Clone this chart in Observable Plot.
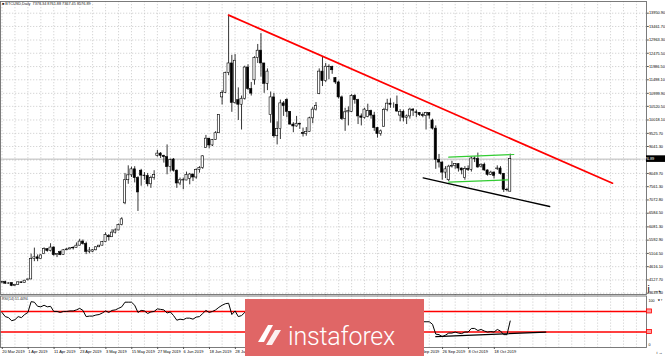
<!DOCTYPE html>
<html><head><meta charset="utf-8">
<script src="https://cdn.jsdelivr.net/npm/d3@7"></script>
<script src="https://cdn.jsdelivr.net/npm/@observablehq/plot@0.6"></script>
<style>
body{margin:0;background:#fff;}
#wrap{position:relative;width:665px;height:356px;overflow:hidden;font-family:"Liberation Sans",Arial,sans-serif;background:#fff;}
#main{position:absolute;left:0;top:0;}
#rsi{position:absolute;left:0;top:295px;}
#logo{position:absolute;left:245px;top:299px;width:179px;height:57px;background:#e06666;}
#logo span{position:absolute;left:43px;top:25px;font-family:Roboto,"Open Sans",sans-serif;font-weight:300;font-size:25px;line-height:25px;color:#fff;letter-spacing:-0.2px;white-space:nowrap;}
#logo svg{position:absolute;left:10px;top:21px;}
</style></head>
<body><div id="wrap"><div id="main"></div><div id="rsi"></div>
<div id="logo"><svg width="28" height="28" viewBox="0 0 28 28"><path d="M3 22 L13 5 L18 5 L9 22 Z" fill="#fff"/><path d="M11 25 L20 10 L26 10 L17 25 Z" fill="#fff" opacity="0.9"/></svg><span>instaforex</span></div>
</div>
<script>
// ---- data (weekday bars, 20 Mar 2019 .. 25 Oct 2019) ----
const open = [4030,4050,3990,4010,3910,3935,4040,4015,
4120,4145,4900,4960,4900,5080,5260,5190,5320,5040,
5150,5040,5220,5250,5290,5300,5390,5540,5450,5160,
5170,5220,5330,5390,5520,5740,5700,5870,5950,6150,
6950,7800,7980,8200,7880,8150,7970,7950,7650,7880,
8700,8780,8700,8650,8280,8560,8150,7680,7800,7790,
7850,8010,7900,8180,8250,8990,9330,9080,9280,9530,
10850,11020,11750,12100,10650,10750,10580,10800,11950,11160,
11480,12300,12570,12100,11350,10200,10850,9420,9680,10630,
10750,10320,9850,9780,9880,9540,9500,9580,10080,10400,
10980,11800,11450,11980,11970,11560,11400,10850,10050,10300,
10320,10900,10750,10150,10100,10130,10350,10180,9720,9500,
9770,10380,10620,10580,10580,10180,10320,10100,10150,10400,
10300,10280,10200,10170,10270,10000,9700,8550,8450,8080,
7800,8300,8320,8390,8230,7880,8210,8180,8600,8580,
8300,8370,8160,8000,8080,8220,8230,8030,7450,7378.34];
const high = [4075,4085,4020,4020,3950,4050,4045,4110,
4160,5080,5300,5050,5060,5310,5270,5460,5350,5100,
5190,5240,5290,5320,5350,5490,5620,5600,5520,5320,
5250,5350,5400,5540,5860,5800,5980,6010,6180,6420,
8050,8330,8280,8300,7930,8200,8080,8050,7950,8150,
8900,8820,8720,9100,8580,8600,8180,7880,7880,8100,
8050,8020,8220,8300,8700,9450,9340,9300,9590,10200,
11100,11780,13880,12400,12430,11200,10900,12000,12050,11400,
12350,12800,13200,12100,11900,11050,11000,9950,10750,10700,
10800,10330,9920,10150,9900,9720,9740,10120,10480,10660,
11900,12320,12100,12050,12000,11580,11450,10900,10450,10500,
10950,10950,10780,10240,10450,10600,10380,10300,9750,9650,
10450,10780,10800,10650,10900,10400,10380,10200,10450,10440,
10380,10290,10280,10300,10280,10050,9800,8750,8480,8300,
8350,8500,8400,8400,8250,8300,8330,8650,8660,8800,
8400,8430,8180,8130,8110,8330,8300,8050,7500,8761.88];
const low = [3990,3960,3970,3880,3900,3930,4000,4010,
4090,4140,4800,4800,4890,5060,5150,5160,5000,4950,
5020,5030,5210,5240,5230,5300,5380,5410,5060,5090,
5130,5200,5320,5380,5500,5560,5690,5820,5940,6120,
6900,7650,7900,7700,6650,7580,7800,7560,7500,7800,
8650,8600,8430,8000,8100,8100,7500,7600,7450,7780,
7630,7750,7840,8060,8200,8980,8960,9040,9270,9520,
10570,11000,11650,10300,10600,10000,9650,10750,11100,10900,
11300,12100,11600,11000,11100,9900,9350,9100,9300,10150,
10100,9820,9550,9750,9670,9390,9420,9570,9880,10350,
10950,11250,11400,11500,11700,11330,10790,10000,9600,9800,
10300,10600,9850,9800,10050,10100,10050,9600,9350,9420,
9750,10320,10450,10450,10300,9950,9950,9850,10050,10150,
10100,10150,10100,9650,10050,9650,8200,8250,7800,7860,
7750,8250,8200,8100,8000,7800,8120,8100,8450,8240,
8250,8130,7950,7970,7850,8160,7990,7350,7370,7367.45];
const close = [4050,3990,4000,3910,3935,4040,4015,4100,
4145,4900,4960,4900,5030,5260,5190,5320,5040,5080,
5040,5220,5250,5290,5300,5390,5540,5450,5160,5210,
5220,5330,5390,5520,5780,5700,5870,5950,6150,6360,
7800,7980,8200,7880,7350,7970,7950,7650,7880,7990,
8780,8700,8650,8280,8550,8150,7680,7800,7790,8000,
8010,7900,8180,8250,8680,9330,9080,9280,9530,10200,
11020,11750,12100,10650,12200,10580,10800,11950,11160,10990,
12300,12570,12100,11350,11800,10850,9420,9680,10630,10530,
10320,9850,9780,9880,9850,9500,9580,10080,10400,10530,
11800,11450,11980,11970,11850,11400,10850,10050,10300,10350,
10900,10750,10150,10100,10400,10350,10180,9720,9500,9600,
10380,10620,10580,10580,10330,10320,10100,10150,10400,10360,
10280,10200,10170,10270,10180,9700,8550,8450,8080,8200,
8300,8320,8390,8230,8160,8210,8180,8600,8580,8270,
8370,8160,8000,8080,7960,8230,8030,7450,7430,8576.89];
const rsi = [68,60,58,52,54,60,58,64,
68,89,88,80,79,82,79,80,70,70,
68,70,70,71,71,73,76,72,60,61,
61,63,64,67,71,68,72,73,76,79,
88,88,88,82,68,72,71,66,69,70,
75,74,73,67,69,62,53,55,54,57,
57,55,59,60,66,72,68,70,73,78,
82,85,86,64,71,60,62,68,61,59,
65,67,62,57,60,53,44,46,53,52,
51,47,47,48,47,45,46,50,53,54,
63,59,63,63,62,58,53,47,49,50,
54,53,48,48,50,50,49,45,43,44,
51,53,53,53,51,51,49,50,52,51,
51,50,50,50,50,45,26,25,21,24,
28,28,30,28,27,30,30,37,37,33,
35,32,30,31,30,35,32,25,25,51.4];

const xTickIdx = [0,8,16,24,32,40,48,56,64,72,80,88,96,104,112,120,128,136,144,152];
const xTickLabels = ["20 Mar 2019","1 Apr 2019","11 Apr 2019","23 Apr 2019","3 May 2019","15 May 2019","27 May 2019","6 Jun 2019","18 Jun 2019","28 Jun 2019","10 Jul 2019","22 Jul 2019","1 Aug 2019","13 Aug 2019","23 Aug 2019","4 Sep 2019","16 Sep 2019","26 Sep 2019","8 Oct 2019","18 Oct 2019"];
const yTicks = [13950.90,13461.70,12963.30,12475.50,11986.50,11498.10,10999.90,10520.50,10018.10,9525.70,9041.30,8545.50,8049.70,7561.30,7072.80,6584.50,6081.30,5592.90,5104.50,4616.10,4127.70,3639.30];
const headerText = "■ BTCUSD,Daily  7378.34 8761.88 7367.45 8576.89";
const rsiHeaderText = "RSI(14) 51.4494";
const rsiLevels = [70, 30];
const rsiAxisLabels = [100, 0];

// drawn lines (bar index, price)
const redTrendIdx = [70, 188.6], redTrendVal = [13880, 7690];
const blackTrendIdx = [130.1, 169.2], blackTrendVal = [7889, 6832];
const greenUpIdx = [138.0, 158.1], greenUpVal = [8647, 8747];
const greenLoIdx = [138.0, 156.4], greenLoVal = [7727, 7815];
const rsiTrendIdx = [134, 168], rsiTrendVal = [21, 30];

// ---- build ----
const bars = open.map((o, i) => ({i, o, h: high[i], l: low[i], c: close[i]}));
const bull = bars.filter(d => d.c >= d.o), bear = bars.filter(d => d.c < d.o);
const pts = (ix, v) => ix.map((i, k) => ({i, v: v[k]}));
const gridIdx = d3.range(0, 200, 4);
const lastClose = close[close.length - 1];
const FONT = "Liberation Sans, Arial, sans-serif";
const xDomain = [-0.463, 199.1];
const gridStyle = {stroke: "#c4c4c4", strokeWidth: 0.7, strokeDasharray: "1.3,1.7"};
// labels fully hidden behind the logo box / price box are not drawn
const logoIdx = [75.2, 130.5];
const shownXTicks = xTickIdx.filter(i => !(i > logoIdx[0] && i + 6.5 < logoIdx[1]));
const shownYTicks = yTicks.filter(v => Math.abs(v - lastClose) > 120);

const main = Plot.plot({
  width: 665, height: 295, marginLeft: 0, marginRight: 19, marginTop: 1, marginBottom: 1,
  style: {fontFamily: FONT, background: "transparent", color: "#000"},
  x: {type: "linear", domain: xDomain},
  y: {domain: [3591.4, 14381.8]},
  marks: [
    Plot.ruleY(yTicks, gridStyle),
    Plot.ruleX(gridIdx, gridStyle),
    Plot.ruleY([lastClose], {stroke: "#a8a8a8", strokeWidth: 0.8}),
    Plot.ruleX(bars, {x: "i", y1: "l", y2: "h", stroke: "#000", strokeWidth: 0.8}),
    Plot.rect(bull, {x1: d => d.i - 0.34, x2: d => d.i + 0.34, y1: "o", y2: "c", fill: "#fff", stroke: "#000", strokeWidth: 0.6}),
    Plot.rect(bear, {x1: d => d.i - 0.34, x2: d => d.i + 0.34, y1: "o", y2: "c", fill: "#000", stroke: "#000", strokeWidth: 0.6}),
    Plot.line(pts(redTrendIdx, redTrendVal), {x: "i", y: "v", stroke: "#ff0000", strokeWidth: 1.7}),
    Plot.line(pts(blackTrendIdx, blackTrendVal), {x: "i", y: "v", stroke: "#000", strokeWidth: 1.3}),
    Plot.line(pts(greenUpIdx, greenUpVal), {x: "i", y: "v", stroke: "#33cc33", strokeWidth: 1.2}),
    Plot.line(pts(greenLoIdx, greenLoVal), {x: "i", y: "v", stroke: "#33cc33", strokeWidth: 1.2}),
    Plot.frame({stroke: "#6e6e6e", strokeWidth: 0.9}),
    Plot.axisY(shownYTicks, {anchor: "right", tickSize: 1.8, tickPadding: 0.6, fontSize: 3.9, tickFormat: d => d.toFixed(2), stroke: "#555"}),
    Plot.text([headerText], {frameAnchor: "top-left", dx: 1.5, dy: 1.2, lineAnchor: "top", textAnchor: "start", fontSize: 3.8, fill: "#222"})
  ]
});
document.getElementById("main").appendChild(main);
{
  const py = main.scale("y").apply(lastClose);
  const px = main.scale("x").apply(xDomain[1]);
  const svg = d3.select(main);
  svg.append("rect").attr("x", px).attr("y", py - 3.3).attr("width", 19).attr("height", 6.6).attr("fill", "#000");
  svg.append("text").attr("x", px + 1.2).attr("y", py).attr("dy", "0.34em").attr("fill", "#fff")
    .attr("font-size", 3.9).attr("font-family", FONT).text(lastClose.toFixed(2));
}

const rsiChart = Plot.plot({
  width: 665, height: 61, marginLeft: 0, marginRight: 19, marginTop: 0.5, marginBottom: 9,
  style: {fontFamily: FONT, background: "transparent", color: "#000"},
  x: {type: "linear", domain: xDomain},
  y: {domain: [0, 100]},
  marks: [
    Plot.ruleX(gridIdx, gridStyle),
    Plot.ruleY(rsiLevels, {stroke: "#ff0000", strokeWidth: 1.4}),
    Plot.line(rsi, {x: (d, i) => i, y: d => d, stroke: "#000", strokeWidth: 1}),
    Plot.line(pts(rsiTrendIdx, rsiTrendVal), {x: "i", y: "v", stroke: "#000", strokeWidth: 1.2}),
    Plot.frame({stroke: "#6e6e6e", strokeWidth: 0.9}),
    Plot.axisX(shownXTicks, {anchor: "bottom", tickSize: 2, tickPadding: 0.5, fontSize: 4, textAnchor: "start", dx: 0.3,
      tickFormat: d => xTickLabels[xTickIdx.indexOf(d)], stroke: "#555"}),
    Plot.axisY([rsiAxisLabels[0]], {anchor: "right", tickSize: 0, tickPadding: 2, fontSize: 3.6, lineAnchor: "top", dy: 3.4}),
    Plot.axisY([rsiAxisLabels[1]], {anchor: "right", tickSize: 0, tickPadding: 2, fontSize: 3.6, lineAnchor: "bottom", dy: -2}),
    Plot.text([rsiHeaderText], {frameAnchor: "top-left", dx: 1.5, dy: 1.5, lineAnchor: "top", textAnchor: "start", fontSize: 3.5, fill: "#222"})
  ]
});
document.getElementById("rsi").appendChild(rsiChart);
{
  const svg = d3.select(rsiChart);
  const px = rsiChart.scale("x").apply(xDomain[1]);
  for (const lv of rsiLevels) {
    const py = rsiChart.scale("y").apply(lv);
    svg.append("rect").attr("x", px + 0.5).attr("y", py - 2).attr("width", 5).attr("height", 4)
      .attr("fill", "#ff9a9a").attr("stroke", "#ff0000").attr("stroke-width", 0.8);
  }
}
</script>
</body></html>
